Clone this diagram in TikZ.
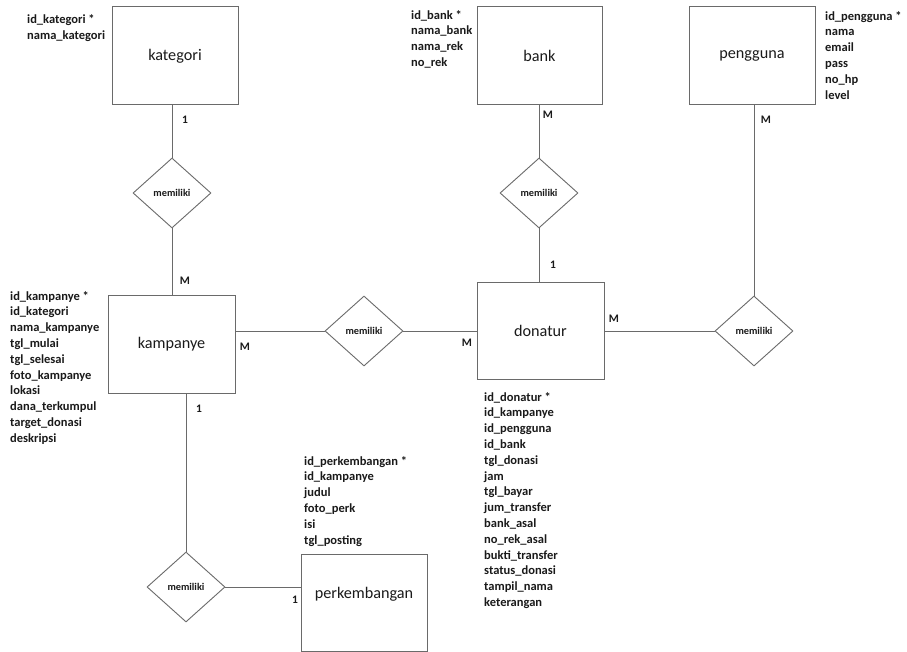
\documentclass[tikz,border=0pt]{standalone}
\usepackage{fontspec}
\setmainfont{Carlito}
\usetikzlibrary{shapes.geometric}
\definecolor{edge}{HTML}{6A6A6A}
\definecolor{ink}{HTML}{1A1A1A}
\tikzset{
  entity/.style={draw=edge, line width=1pt, rectangle, minimum width=126pt, minimum height=98pt, inner sep=0pt, text=ink, font=\fontsize{16.2}{19}\selectfont},
  rel/.style={draw=edge, line width=0.9pt, diamond, minimum width=78pt, minimum height=70pt, inner sep=0pt, text=ink, font=\bfseries\fontsize{10.3}{12}\selectfont},
  attrs/.style={anchor=north west, inner sep=0pt, align=left, text=ink, font=\bfseries\fontsize{12.5}{15.8}\selectfont},
  card/.style={inner sep=0pt, text=ink, font=\bfseries\fontsize{11.5}{13}\selectfont},
  conn/.style={draw=edge, line width=0.9pt},
}
\begin{document}
\begin{tikzpicture}[x=1pt, y=-1pt]
\fill[white] (0,0) rectangle (907,652);
\useasboundingbox (0,0) rectangle (907,652);

% entities
\node[entity] (kat) at (175,56) {kategori};
\node[entity, minimum width=125pt] (bank) at (539.5,56) {bank};
\node[entity] (peng) at (752,56) {pengguna};
\node[entity, minimum width=127pt] (kamp) at (171.5,344) {kampanye};
\node[entity, minimum width=127pt, minimum height=97pt] (don) at (540.5,330.5) {donatur};
\node[entity, minimum height=97pt] (perk) at (364,602.5) {};
\node[inner sep=0pt, text=ink, font=\fontsize{16.2}{19}\selectfont] (perklbl) at (364,594) {perkembangan};

% relationships
\node[rel] (r1) at (172,193) {memiliki};
\node[rel] (r2) at (539,193) {memiliki};
\node[rel] (r3) at (364,331) {memiliki};
\node[rel] (r4) at (754,331) {memiliki};
\node[rel] (r5) at (186,587) {memiliki};

% connectors
\draw[conn] (r1.north |- kat.south) -- (r1.north);
\draw[conn] (r1.south) -- (r1.south |- kamp.north);
\draw[conn] (r2.north |- bank.south) -- (r2.north);
\draw[conn] (r2.south) -- (r2.south |- don.north);
\draw[conn] (r4.north |- peng.south) -- (r4.north);
\draw[conn] (kamp.east |- r3.west) -- (r3.west);
\draw[conn] (r3.east) -- (don.west |- r3.east);
\draw[conn] (don.east |- r4.west) -- (r4.west);
\draw[conn] (r5.north |- kamp.south) -- (r5.north);
\draw[conn] (r5.east) -- (perk.west |- r5.east);

% cardinalities
\node[card] (c1) at (185,120) {1};
\node[card] (c2) at (185,281) {M};
\node[card] (c3) at (548,115) {M};
\node[card] (c4) at (553,265) {1};
\node[card] (c5) at (766,120) {M};
\node[card] (c6) at (245,347) {M};
\node[card] (c7) at (199,409) {1};
\node[card] (c8) at (467,343) {M};
\node[card] (c9) at (614,319) {M};
\node[card] (c10) at (295,600) {1};

% attributes
\node[attrs] (akat) at (27,14.5) {id\_kategori *\\nama\_kategori};
\node[attrs] (abank) at (411,10) {id\_bank *\\nama\_bank\\nama\_rek\\no\_rek};
\node[attrs] (apeng) at (825,11) {id\_pengguna *\\nama\\email\\pass\\no\_hp\\level};
\node[attrs] (akamp) at (10,291) {id\_kampanye *\\id\_kategori\\nama\_kampanye\\tgl\_mulai\\tgl\_selesai\\foto\_kampanye\\lokasi\\dana\_terkumpul\\target\_donasi\\deskripsi};
\node[attrs] (adon) at (484,392) {id\_donatur *\\id\_kampanye\\id\_pengguna\\id\_bank\\tgl\_donasi\\jam\\tgl\_bayar\\jum\_transfer\\bank\_asal\\no\_rek\_asal\\bukti\_transfer\\status\_donasi\\tampil\_nama\\keterangan};
\node[attrs] (aperk) at (304,456) {id\_perkembangan *\\id\_kampanye\\judul\\foto\_perk\\isi\\tgl\_posting};
\end{tikzpicture}
\end{document}
